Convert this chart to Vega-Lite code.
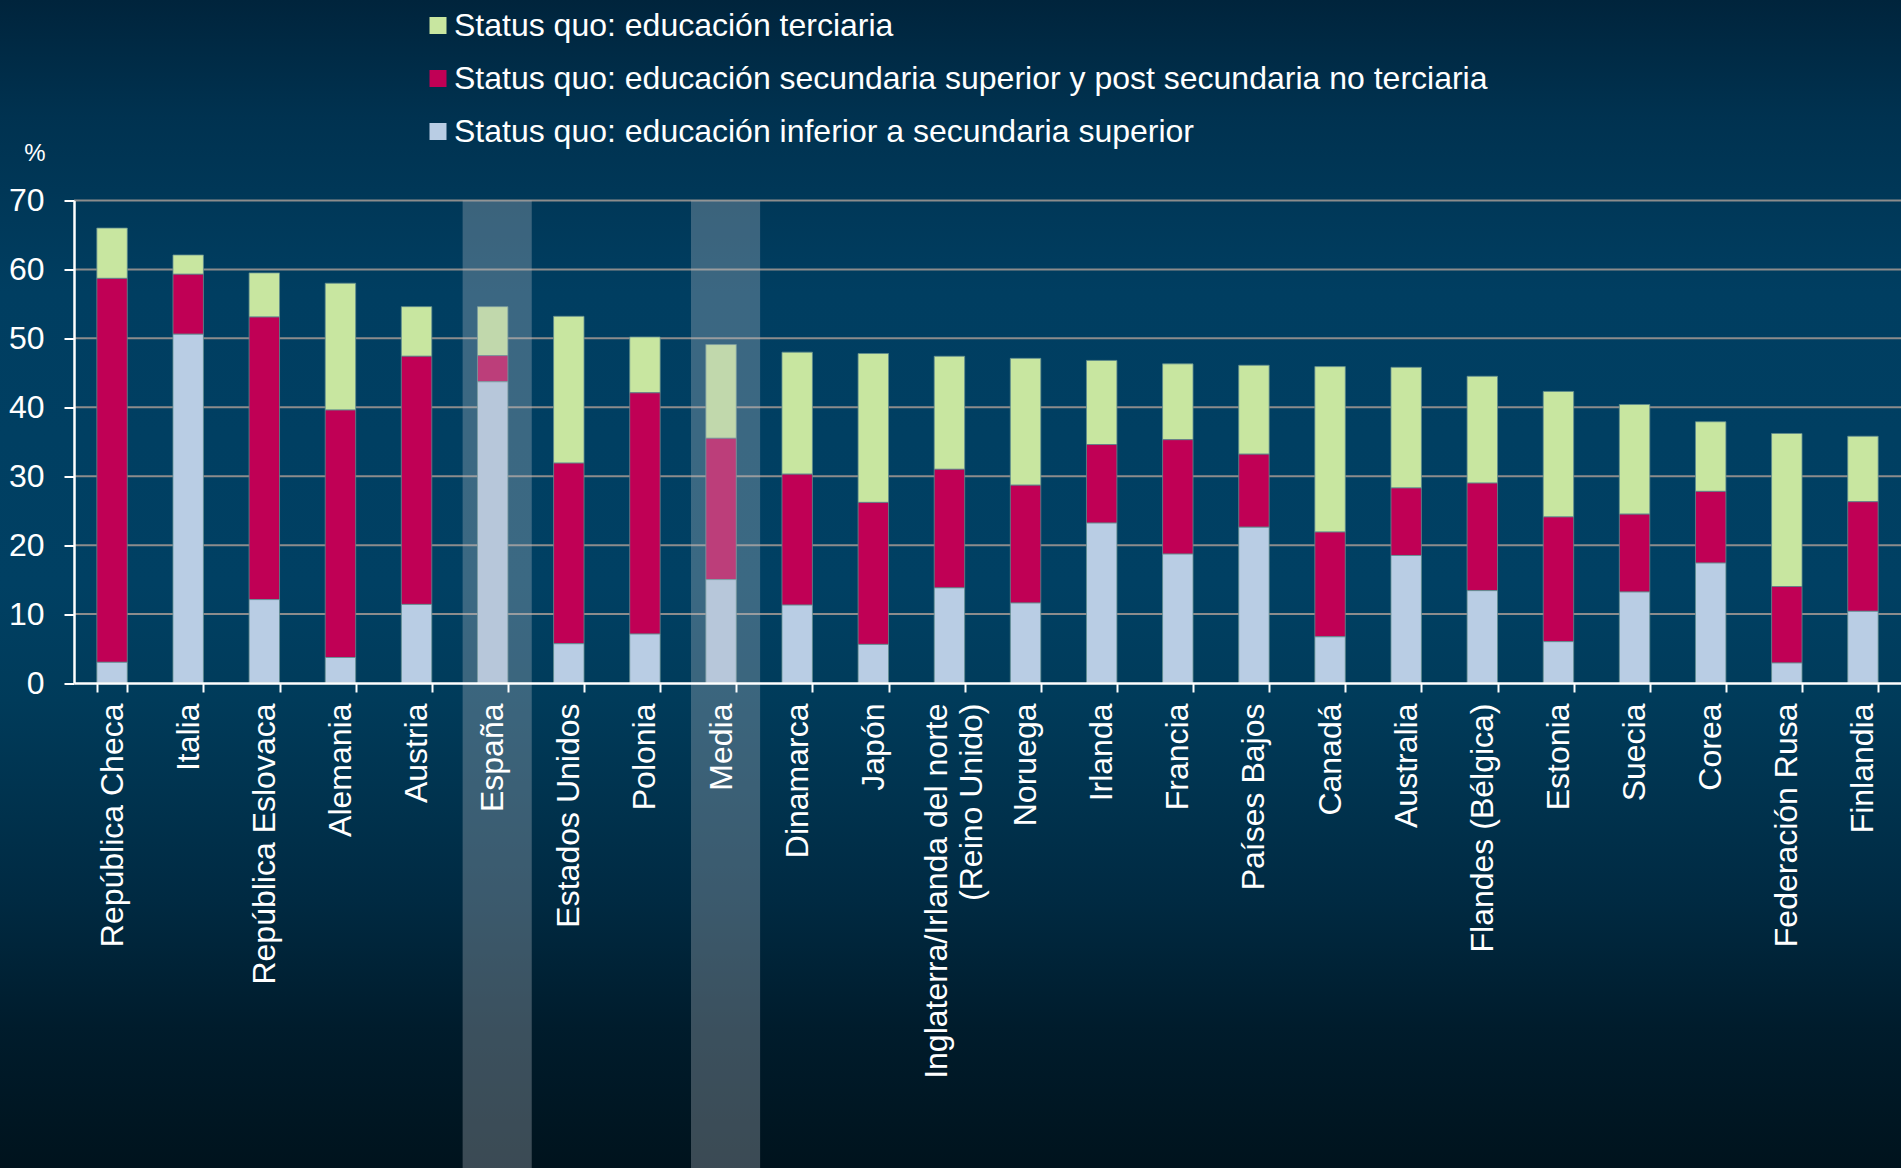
{
  "$schema": "https://vega.github.io/schema/vega-lite/v6.json",
  "width": 1827,
  "height": 482.5,
  "autosize": {"type": "none"},
  "padding": {"left": 74, "top": 200.5, "right": 0, "bottom": 485},
  "background": "#00131d",
  "config": {
    "view": {"stroke": null},
    "font": "Liberation Sans"
  },
  "datasets": {
    "edu": [
      {"pais": "República Checa", "Status quo: educación inferior a secundaria superior": 3.0, "Status quo: educación secundaria superior y post secundaria no terciaria": 55.7, "Status quo: educación terciaria": 7.3},
      {"pais": "Italia", "Status quo: educación inferior a secundaria superior": 50.6, "Status quo: educación secundaria superior y post secundaria no terciaria": 8.7, "Status quo: educación terciaria": 2.8},
      {"pais": "República Eslovaca", "Status quo: educación inferior a secundaria superior": 12.1, "Status quo: educación secundaria superior y post secundaria no terciaria": 41.0, "Status quo: educación terciaria": 6.4},
      {"pais": "Alemania", "Status quo: educación inferior a secundaria superior": 3.7, "Status quo: educación secundaria superior y post secundaria no terciaria": 35.9, "Status quo: educación terciaria": 18.4},
      {"pais": "Austria", "Status quo: educación inferior a secundaria superior": 11.4, "Status quo: educación secundaria superior y post secundaria no terciaria": 36.0, "Status quo: educación terciaria": 7.2},
      {"pais": "España", "Status quo: educación inferior a secundaria superior": 43.7, "Status quo: educación secundaria superior y post secundaria no terciaria": 3.8, "Status quo: educación terciaria": 7.1},
      {"pais": "Estados Unidos", "Status quo: educación inferior a secundaria superior": 5.7, "Status quo: educación secundaria superior y post secundaria no terciaria": 26.2, "Status quo: educación terciaria": 21.3},
      {"pais": "Polonia", "Status quo: educación inferior a secundaria superior": 7.1, "Status quo: educación secundaria superior y post secundaria no terciaria": 35.0, "Status quo: educación terciaria": 8.1},
      {"pais": "Media", "Status quo: educación inferior a secundaria superior": 15.0, "Status quo: educación secundaria superior y post secundaria no terciaria": 20.5, "Status quo: educación terciaria": 13.6},
      {"pais": "Dinamarca", "Status quo: educación inferior a secundaria superior": 11.3, "Status quo: educación secundaria superior y post secundaria no terciaria": 19.0, "Status quo: educación terciaria": 17.7},
      {"pais": "Japón", "Status quo: educación inferior a secundaria superior": 5.6, "Status quo: educación secundaria superior y post secundaria no terciaria": 20.6, "Status quo: educación terciaria": 21.6},
      {"pais": "Inglaterra/Irlanda del norte (Reino Unido)", "Status quo: educación inferior a secundaria superior": 13.8, "Status quo: educación secundaria superior y post secundaria no terciaria": 17.2, "Status quo: educación terciaria": 16.4},
      {"pais": "Noruega", "Status quo: educación inferior a secundaria superior": 11.6, "Status quo: educación secundaria superior y post secundaria no terciaria": 17.1, "Status quo: educación terciaria": 18.4},
      {"pais": "Irlanda", "Status quo: educación inferior a secundaria superior": 23.2, "Status quo: educación secundaria superior y post secundaria no terciaria": 11.4, "Status quo: educación terciaria": 12.2},
      {"pais": "Francia", "Status quo: educación inferior a secundaria superior": 18.7, "Status quo: educación secundaria superior y post secundaria no terciaria": 16.6, "Status quo: educación terciaria": 11.0},
      {"pais": "Países Bajos", "Status quo: educación inferior a secundaria superior": 22.6, "Status quo: educación secundaria superior y post secundaria no terciaria": 10.6, "Status quo: educación terciaria": 12.9},
      {"pais": "Canadá", "Status quo: educación inferior a secundaria superior": 6.7, "Status quo: educación secundaria superior y post secundaria no terciaria": 15.2, "Status quo: educación terciaria": 24.0},
      {"pais": "Australia", "Status quo: educación inferior a secundaria superior": 18.5, "Status quo: educación secundaria superior y post secundaria no terciaria": 9.8, "Status quo: educación terciaria": 17.5},
      {"pais": "Flandes (Bélgica)", "Status quo: educación inferior a secundaria superior": 13.4, "Status quo: educación secundaria superior y post secundaria no terciaria": 15.6, "Status quo: educación terciaria": 15.5},
      {"pais": "Estonia", "Status quo: educación inferior a secundaria superior": 6.0, "Status quo: educación secundaria superior y post secundaria no terciaria": 18.1, "Status quo: educación terciaria": 18.2},
      {"pais": "Suecia", "Status quo: educación inferior a secundaria superior": 13.2, "Status quo: educación secundaria superior y post secundaria no terciaria": 11.3, "Status quo: educación terciaria": 15.9},
      {"pais": "Corea", "Status quo: educación inferior a secundaria superior": 17.4, "Status quo: educación secundaria superior y post secundaria no terciaria": 10.4, "Status quo: educación terciaria": 10.1},
      {"pais": "Federación Rusa", "Status quo: educación inferior a secundaria superior": 2.9, "Status quo: educación secundaria superior y post secundaria no terciaria": 11.1, "Status quo: educación terciaria": 22.2},
      {"pais": "Finlandia", "Status quo: educación inferior a secundaria superior": 10.4, "Status quo: educación secundaria superior y post secundaria no terciaria": 15.9, "Status quo: educación terciaria": 9.5}
    ],
    "destacados": [{"pais": "España"}, {"pais": "Media"}],
    "rejilla": [{"v": 10}, {"v": 20}, {"v": 30}, {"v": 40}, {"v": 50}, {"v": 60}, {"v": 70}]
  },
  "resolve": {"scale": {"x": "independent", "y": "independent"}, "axis": {"x": "independent", "y": "independent"}},
  "layer": [
    {
      "data": {"values": [{"fondo": 1}]},
      "mark": {
        "type": "rect",
        "fill": {
          "gradient": "linear", "x1": 0, "y1": 0, "x2": 0, "y2": 1,
          "stops": [
            {"offset": 0, "color": "#00243c"},
            {"offset": 0.1, "color": "#003250"},
            {"offset": 0.25, "color": "#003e61"},
            {"offset": 0.5, "color": "#004063"},
            {"offset": 0.6, "color": "#003b5a"},
            {"offset": 0.77, "color": "#002a42"},
            {"offset": 0.88, "color": "#001c2c"},
            {"offset": 1, "color": "#00131d"}
          ]
        }
      },
      "encoding": {
        "x": {"datum": -0.0406, "type": "quantitative", "scale": {"domain": [0, 1]}, "axis": null},
        "x2": {"datum": 1.0},
        "y": {"datum": 99.09, "type": "quantitative", "scale": {"domain": [0, 70], "nice": false}, "axis": null},
        "y2": {"datum": -70.36}
      }
    },
    {
      "layer": [
        {
          "data": {"name": "rejilla"},
          "mark": {"type": "rule", "color": "#8c8c8c", "strokeWidth": 2},
          "encoding": {
            "y": {"field": "v", "type": "quantitative", "scale": {"domain": [0, 70], "nice": false},
              "axis": {"title": "%", "titleAngle": 0, "titleAlign": "right", "titleBaseline": "middle", "titleX": -29, "titleY": -47, "titleFontSize": 24, "titleFontWeight": "normal", "titleColor": "#ffffff", "zindex": 1, "values": [0, 10, 20, 30, 40, 50, 60, 70], "labelFontSize": 32, "labelColor": "#ffffff", "labelPadding": 20, "tickSize": 10, "tickWidth": 2, "tickColor": "#ffffff", "domainColor": "#ffffff", "domainWidth": 2.5, "grid": false}}
          }
        },
        {
          "data": {"name": "edu"},
          "transform": [
            {"fold": ["Status quo: educación terciaria", "Status quo: educación secundaria superior y post secundaria no terciaria", "Status quo: educación inferior a secundaria superior"], "as": ["nivel", "valor"]}
          ],
          "mark": {"type": "bar", "stroke": "#5f8c8e", "strokeWidth": 0.8},
          "encoding": {
            "x": {
              "field": "pais", "type": "nominal",
              "scale": {"domain": ["República Checa", "Italia", "República Eslovaca", "Alemania", "Austria", "España", "Estados Unidos", "Polonia", "Media", "Dinamarca", "Japón", "Inglaterra/Irlanda del norte (Reino Unido)", "Noruega", "Irlanda", "Francia", "Países Bajos", "Canadá", "Australia", "Flandes (Bélgica)", "Estonia", "Suecia", "Corea", "Federación Rusa", "Finlandia"], "paddingInner": 0.6, "paddingOuter": 0.3},
              "axis": {"title": null, "zindex": 1, "labelAngle": -90, "labelAlign": "right", "labelBaseline": "middle", "labelFontSize": 32, "labelColor": "#ffffff", "labelPadding": 11, "labelLimit": 0, "labelLineHeight": 35, "tickBand": "extent", "tickSize": 9, "tickWidth": 2, "tickColor": "#ffffff", "domainColor": "#ffffff", "domainWidth": 2.5, "grid": false,
                "labelExpr": "datum.label == 'Inglaterra/Irlanda del norte (Reino Unido)' ? ['Inglaterra/Irlanda del norte', '(Reino Unido)'] : datum.label",
                "labelOffset": {"condition": {"test": "datum.value == 'Inglaterra/Irlanda del norte (Reino Unido)'", "value": -13}, "value": 0}}
            },
            "y": {
              "field": "valor", "type": "quantitative", "stack": "zero",
              "scale": {"domain": [0, 70], "nice": false},
              "axis": {"title": "%", "titleAngle": 0, "titleAlign": "right", "titleBaseline": "middle", "titleX": -29, "titleY": -47, "titleFontSize": 24, "titleFontWeight": "normal", "titleColor": "#ffffff", "zindex": 1, "values": [0, 10, 20, 30, 40, 50, 60, 70], "labelFontSize": 32, "labelColor": "#ffffff", "labelPadding": 20, "tickSize": 10, "tickWidth": 2, "tickColor": "#ffffff", "domainColor": "#ffffff", "domainWidth": 2.5, "grid": false}
            },
            "color": {
              "field": "nivel", "type": "nominal",
              "scale": {
                "domain": ["Status quo: educación terciaria", "Status quo: educación secundaria superior y post secundaria no terciaria", "Status quo: educación inferior a secundaria superior"],
                "range": ["#c8e6a0", "#c00055", "#b9cde4"]
              },
              "legend": {
                "title": null,
                "orient": "none",
                "legendX": 348,
                "legendY": -191,
                "symbolType": "square",
                "symbolSize": 289,
                "symbolStrokeWidth": 0,
                "labelFontSize": 32,
                "labelColor": "#ffffff",
                "labelOffset": 0,
                "labelLimit": 0,
                "rowPadding": 21,
                "padding": 0
              }
            },
            "order": {"field": "nivel", "sort": "ascending"}
          }
        },
        {
          "data": {"name": "destacados"},
          "mark": {"type": "bar", "fill": "#b4bcc6", "opacity": 0.33, "width": {"band": 2.27}, "xOffset": 4.5},
          "encoding": {
            "x": {"field": "pais", "type": "nominal",
              "scale": {"domain": ["República Checa", "Italia", "República Eslovaca", "Alemania", "Austria", "España", "Estados Unidos", "Polonia", "Media", "Dinamarca", "Japón", "Inglaterra/Irlanda del norte (Reino Unido)", "Noruega", "Irlanda", "Francia", "Países Bajos", "Canadá", "Australia", "Flandes (Bélgica)", "Estonia", "Suecia", "Corea", "Federación Rusa", "Finlandia"], "paddingInner": 0.6, "paddingOuter": 0.3},
              "axis": {"title": null, "zindex": 1, "labelAngle": -90, "labelAlign": "right", "labelBaseline": "middle", "labelFontSize": 32, "labelColor": "#ffffff", "labelPadding": 11, "labelLimit": 0, "labelLineHeight": 35, "tickBand": "extent", "tickSize": 9, "tickWidth": 2, "tickColor": "#ffffff", "domainColor": "#ffffff", "domainWidth": 2.5, "grid": false,
                "labelExpr": "datum.label == 'Inglaterra/Irlanda del norte (Reino Unido)' ? ['Inglaterra/Irlanda del norte', '(Reino Unido)'] : datum.label",
                "labelOffset": {"condition": {"test": "datum.value == 'Inglaterra/Irlanda del norte (Reino Unido)'", "value": -13}, "value": 0}}
            },
            "y": {"datum": 70, "type": "quantitative", "scale": {"domain": [0, 70], "nice": false},
              "axis": {"title": "%", "titleAngle": 0, "titleAlign": "right", "titleBaseline": "middle", "titleX": -29, "titleY": -47, "titleFontSize": 24, "titleFontWeight": "normal", "titleColor": "#ffffff", "zindex": 1, "values": [0, 10, 20, 30, 40, 50, 60, 70], "labelFontSize": 32, "labelColor": "#ffffff", "labelPadding": 20, "tickSize": 10, "tickWidth": 2, "tickColor": "#ffffff", "domainColor": "#ffffff", "domainWidth": 2.5, "grid": false}},
            "y2": {"datum": -70.4}
          }
        }
      ]
    }
  ]
}
